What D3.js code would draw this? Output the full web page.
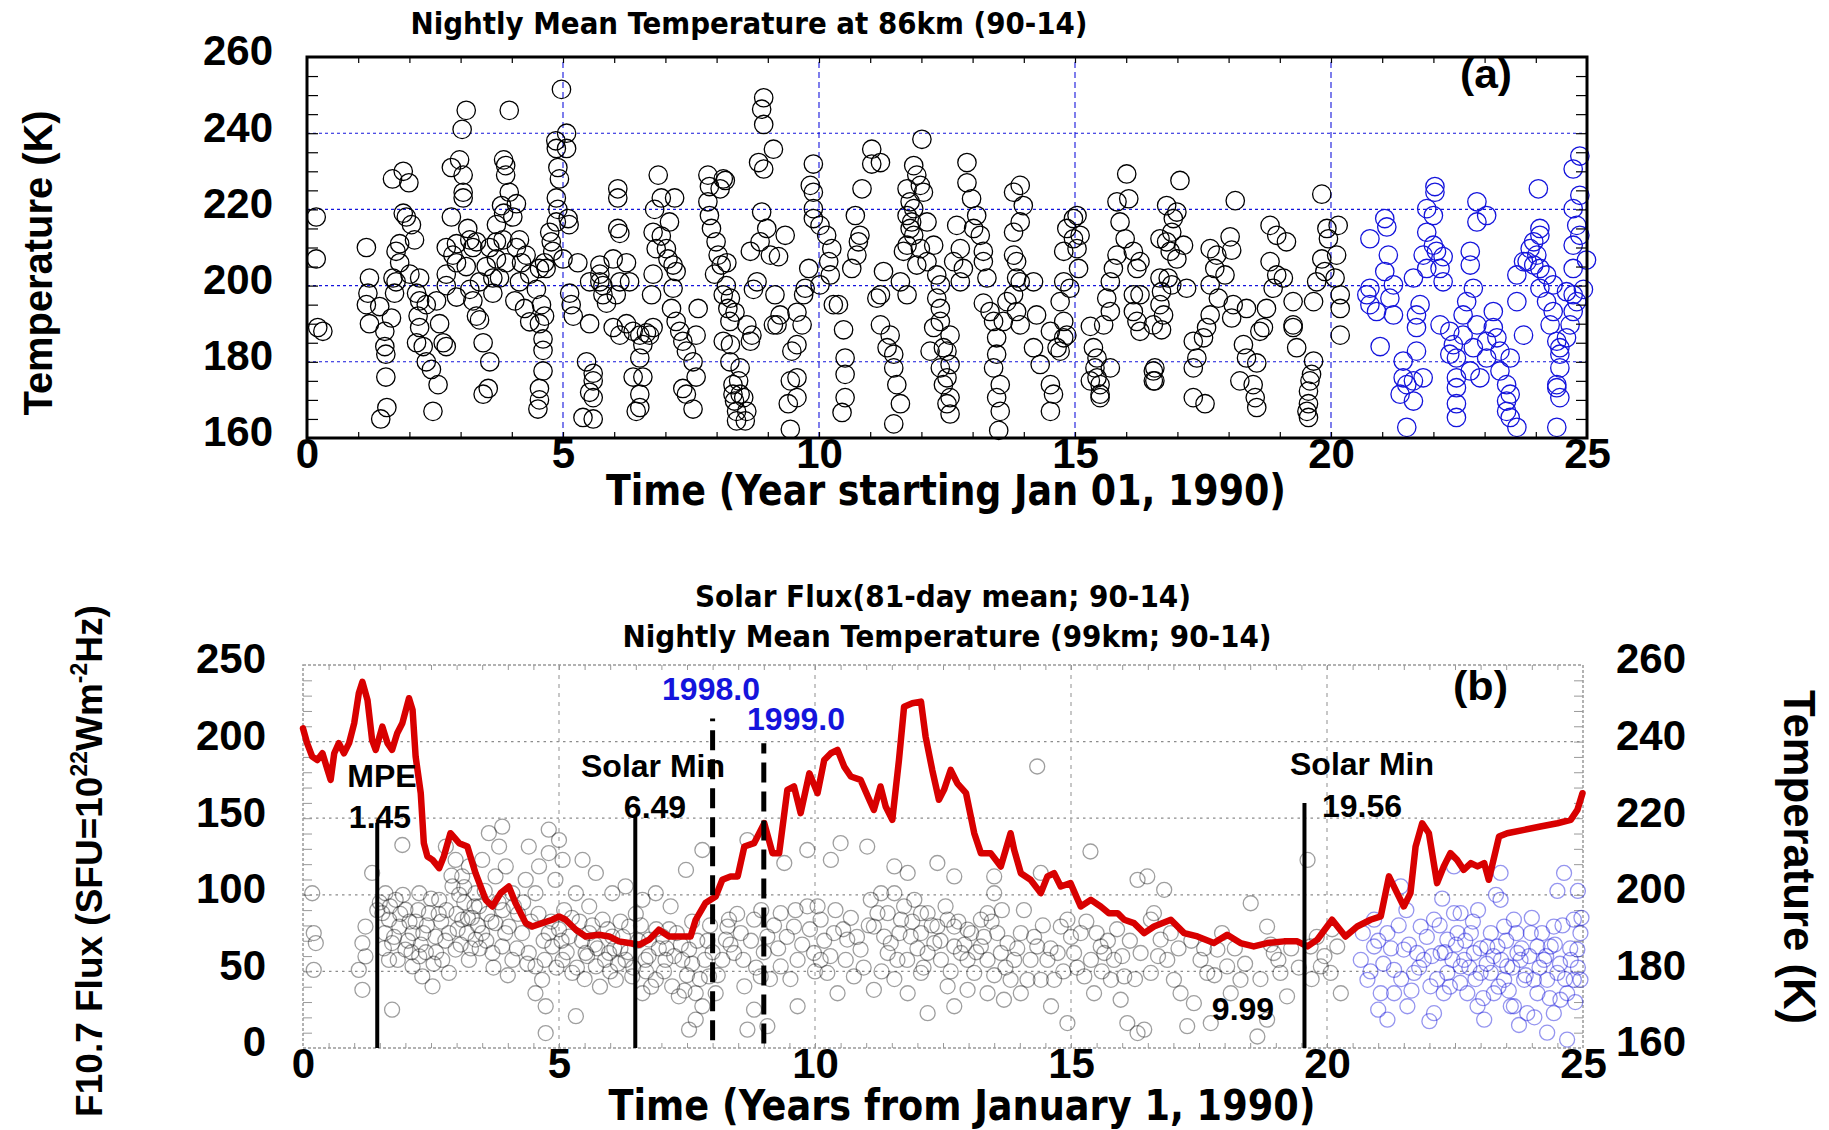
<!DOCTYPE html>
<html>
<head>
<meta charset="utf-8">
<script src="https://cdn.jsdelivr.net/npm/d3@7"></script>
<style>
  body { margin: 0; background: #fff; }
  svg { display: block; }
</style>
</head>
<body>
<script>
// ---- data ----
// panel (a): nightly mean temperature at 86 km, [year since 1990, K]
const temp86 = [
  [0.18,218],[0.18,207],[0.21,189],[0.31,188],
  [1.16,210],[1.22,202],[1.19,198],[1.16,195],[1.22,190],[1.42,194.5],[1.52,188],
  [1.67,228],[1.88,230],[1.99,227],
  [1.88,219],[1.94,218],[2.04,216],[2.1,212],[1.81,211],[1.74,209],[1.81,206],[1.68,202],[1.74,201],[1.71,198],[1.65,191.5],[1.52,184],[1.54,182],[1.54,176],[1.56,168],[1.44,165],[2.01,203],[2.2,202],[2.14,198],[2.2,196],[2.33,195],[2.17,192],[2.2,189],[2.14,185],[2.27,184],[2.33,180],[2.43,178],[2.56,174],[2.46,167],[2.59,190],[2.66,185],[2.72,184],[2.53,196],
  [3.11,246],[3.03,241],[2.82,231],[2.98,233],[3.05,229],[3.05,224.5],[3.05,223],[2.82,218],[3.14,215],[2.92,211],[3.18,212],[3.24,210],[2.72,210],[2.85,208],[2.92,206],[2.72,203],[2.72,200],[2.92,197],[3.18,199],[3.24,196],[3.31,192],[3.37,191],[3.44,185],[3.57,180],[3.54,173],[3.44,171.5],[3.63,198],[3.63,202],[3.5,205],[3.11,205],[3.31,211.5],[3.37,201],
  [3.95,246],[3.84,233],[3.88,231.5],[3.88,229],[3.95,224.5],[3.8,221],[3.84,219],[4.02,218],[4.09,221.5],[3.7,216],[3.7,211.5],[3.83,212],[4.09,210],[4.15,212],[4.28,208],[4.19,206],[4.35,203],[4.15,201],[4.06,196],[4.25,194],[4.35,190.5],[3.76,202],[3.7,207],[3.89,206],[3.57,210],
  [4.97,251.5],[5.07,240],[4.86,238],[5.07,236],[4.87,236],[4.9,231],[4.93,228],[4.87,223],[4.9,220],[5.1,217.6],[5.12,216],[4.74,214],[4.77,211.5],[4.8,209],[5.0,207],[4.64,206],[4.67,204.5],[4.54,204.5],[4.48,199],[4.58,195],[4.64,192],[4.54,190],[4.61,186],[4.61,183],[4.61,177.6],[4.54,173],[4.54,170],[4.51,167.6],[5.13,198],[5.16,195],[5.2,192],[5.52,190],[5.52,201],[5.29,206],[4.87,216.7],
  [5.46,180],[5.59,177],[5.59,175],[5.52,172],[5.59,170.6],[5.39,165.4],[5.59,165],[5.72,203],[5.78,200],[5.78,197.6],[5.85,195.4],[5.72,205.4],[5.98,207],[5.72,201],
  [6.07,225.4],[6.07,223],[6.07,215],[6.11,213.7],[6.24,206],[6.11,201],[5.98,189],[6.11,187],[6.24,190],[6.37,188],[6.5,187],[6.63,187.6],[6.69,187],[6.56,184.5],[6.5,181],[6.37,176],[6.5,171.5],[6.5,168],[6.43,167],[6.56,176],[6.76,189],[6.04,197.6],[6.3,201],
  [6.86,229],[6.92,223],[6.79,220],[7.18,223],[7.08,216.7],[6.92,213],[7.02,209.7],[7.05,207],[7.15,205.4],[7.21,203.7],[7.15,199.3],[6.76,203],[6.73,197.6],[7.12,194],[7.21,190.6],[7.28,188],[7.34,185.4],[7.41,182.8],[7.54,180],[7.6,176],[7.34,173],[7.41,171.5],[7.54,167.6],[7.64,194],[7.6,187],[6.82,209.7],[6.76,214],
  [7.83,229],[8.13,228],[7.86,226],[7.83,222],[7.86,218.4],[7.9,215],[7.99,211.5],[8.03,208],[8.09,205.4],[7.96,203],[8.19,200],[8.13,197.6],[8.22,194],[8.26,190.6],[8.13,185.4],[8.26,180],[8.32,174],[8.32,171.5],[8.35,169.7],[8.39,167],[8.39,164.5],
  [8.17,227.6],[8.07,225.4],[8.2,206],[8.27,196.7],[8.36,193],[8.59,189.7],[8.69,187],[8.66,185.4],[8.27,184.5],[8.46,178.4],[8.43,175],[8.46,171.5],[8.53,170.6],[8.59,167],[8.56,164.5],
  [8.92,249.3],[8.88,246.3],[8.92,242.3],[9.11,235.8],[8.82,232.3],[8.92,230.6],
  [8.88,219.3],[8.98,215],[8.85,211.5],[9.34,213.2],[8.66,209],[9.05,208],[9.21,207.6],[8.79,201],[8.72,199],[9.14,197.6],[9.24,192.3],[9.18,189.7],[9.11,189.7],
  [9.57,193],[9.67,189.7],[9.57,184.5],[9.47,182.8],[9.57,175.8],[9.44,175],[9.4,169],[9.57,170.6],[9.44,162.3],
  [9.89,231.9],[9.83,226.3],[9.89,224.5],[9.89,220.2],[9.89,217.6],[10.02,215.8],[10.15,213.2],[10.25,209.7],[10.19,206.3],[10.22,202.8],[9.8,204.5],[9.73,199.3],[9.7,197.6],[10.02,200.2],
  [10.28,195],[10.38,195],[10.48,188.4],[10.51,181],[10.51,176.7],[10.51,170.6],[10.45,166.7],
  [10.71,218.4],[10.8,213.2],[10.77,211.5],[10.74,208],[10.64,204.5],[10.84,225.4],
  [11.03,235.8],[11.2,232.3],[11.03,231.9],
  [11.26,203.7],[11.2,197.6],[11.13,196.7],[11.2,189.7],[11.39,187],[11.46,182],[11.46,178.4],[11.52,174],[11.59,169],[11.46,163.7],[11.33,183.7],
  [12.01,238.4],[11.85,231.5],[11.91,229],[11.98,226.3],[12.04,224.5],[11.85,220.2],[11.81,216.7],[11.85,213.2],[11.98,209.7],[11.65,209],[12.11,206.3],[12.3,202.8],[12.37,200.2],[12.3,196.7],[12.37,194],[12.24,189],[12.56,187],[12.5,182.8],[12.56,179.3],[12.5,175.8],[12.56,170.6],[12.56,166.3],[12.17,182.8],
  [11.72,225.4],[11.78,222],[11.72,218.4],[11.78,215],[11.72,210.6],[11.91,205.4],[11.59,201],[11.72,197.6],[12.11,216.7],[12.24,210.6],
  [12.89,232.3],[12.89,227],[12.98,222.8],[13.08,218.4],[13.02,215],[13.15,213.2],[13.21,209],[13.21,206.3],[13.28,202],[13.21,195.4],[13.34,193.2],[13.41,190.6],[13.47,186.3],[13.47,182],[13.41,178.4],[13.54,174],[13.47,170.6],[13.54,167],[13.51,162],[12.82,204.5],[12.69,215.8],[12.76,209.7],[12.63,206.3],[12.76,201],
  [12.37,190.6],[12.43,183.7],[12.37,178.4],[12.43,174],[12.5,169],
  [13.8,224.5],[13.93,226.3],[13.99,221],[13.93,216.7],[13.8,214],[13.8,208],[13.86,206.3],[13.86,202],[13.93,201],[13.8,197.6],[13.86,193.2],[13.93,189.7],[14.25,192.3],[14.19,183.7],[14.32,179.3],[14.52,174],[14.58,171.5],[14.52,167],[14.19,201],[14.52,188],[14.78,186.3],[14.65,183.7],[13.67,195.8],[13.6,190.6],
  [14.84,215],[14.97,217.6],[15.04,218.4],[14.97,212.3],[14.78,209],[15.07,204.5],[14.78,201],[14.9,199.3],[14.71,195.8],[14.78,190.6],[14.84,187],[14.71,182.8],[15.1,213.2],[15.04,209.7],
  [15.3,189.3],[15.36,183.7],[15.43,181],[15.39,178.4],[15.43,175.8],[15.49,174],[15.49,171.5],[15.69,178.4],[15.49,170.6],[15.3,175],
  [16.01,229.3],[15.82,222],[16.05,222.8],[15.88,216.7],[15.98,212.3],[15.82,208],[15.75,204.5],[15.69,201],[15.62,196.7],[15.69,193.2],[15.56,189.7],[16.14,209],[16.21,204.5],[16.14,197.6],[16.14,193.2],[16.27,188],[16.53,189.7],[16.66,202],[16.66,212.3],[16.53,177.6],[16.53,175],[16.21,190.6],
  [16.27,206.3],[16.27,197.6],
  [17.05,227.6],[16.79,221],[16.92,217.6],[16.99,219.3],[16.89,214],[16.79,211.5],[17.12,210.6],[16.86,209],[16.99,207],[16.82,202],[16.89,200.2],[16.69,198.4],[16.66,195],[16.73,192.3],[16.69,188.4],[16.56,178.4],[16.56,175],[17.18,199.3],
  [18.13,222.3],
  [17.64,209.7],[17.77,208],[17.73,204.5],[17.64,200.2],[17.8,196.7],[17.64,192.3],[17.57,189],[17.51,186.3],[17.31,185.4],[17.38,181],[17.31,178.4],[17.31,170.6],[17.54,169],[18.03,212.8],[18.06,209.3],[17.93,202.8],[18.09,195],[18.06,191.5],[18.35,194],
  [18.81,215.8],[18.94,213.2],[19.13,211.5],[18.81,206.3],[18.94,202.8],[19.07,202],[18.87,199.3],[19.26,195.8],[18.74,194],[18.68,189],[18.61,188],[18.29,184.5],[18.35,181],[18.55,179.7],[18.22,175],[18.48,174],[18.52,170.6],[18.55,168],[19.26,189.7],
  [19.82,224],[19.92,215],[20.14,215.8],[19.95,212.3],[20.11,208],[19.82,207],[19.88,203.7],[20.08,202],[19.72,201],[20.18,197.6],[20.18,194],[20.18,187],[19.66,195.8],[19.26,189],[19.33,183.7],[19.66,180.2],[19.62,176.7],[19.59,175],[19.56,172.3],[19.56,169],[19.53,167],[19.56,165.4]
];
// panel (a): later years (blue)
const temp86Late = [
  [20.76,212.3],[21.05,217.6],[21.09,215.4],[21.12,208],[21.05,203.7],[20.76,199.3],[20.76,195],[20.89,193.2],[21.15,196.7],[21.22,192.3],[20.96,184],[20.7,197.6],[21.22,200.2],
  [21.41,175.8],[21.48,174],[21.61,175],[21.35,171.5],[21.61,169.7],[21.48,162.8],[21.41,180.2],[21.67,182.8],[21.8,175.8],[21.67,189],[21.67,192.3],[21.74,195],[21.61,202],[21.87,204.5],[21.8,208],[22.0,210.6],[21.87,214],[22.0,218.4],[21.87,220.2],[22.03,224.5],[22.03,226],[22.06,209],[22.13,204.5],[22.19,207.6],[22.19,201],
  [22.13,189.7],[22.32,188],[22.39,184.5],[22.32,182],[22.45,181],[22.45,175.8],[22.45,173.2],[22.45,169],[22.45,165.4],[22.58,187],[22.58,192.3],[22.65,195.8],[22.78,199.3],[22.72,205.4],[22.72,209],[22.85,216.7],[22.85,222],[23.04,218.4],[22.85,189.7],[23.04,185.4],[22.78,183.7],[22.72,177.6],[23.04,181],[22.91,175.8],
  [23.17,189],[23.17,193.2],[23.24,186.3],[23.3,182.8],[23.3,177.6],[23.43,174],[23.5,171.5],[23.43,169.7],[23.43,167],[23.5,165.4],[23.63,162.8],[23.5,181],[23.76,187],[23.63,195.8],[23.63,202.8],[23.83,206.3],[23.89,209.7],[23.96,211.5],[24.08,213.2],[24.08,215],[24.02,208],[24.08,204.5],[24.21,202.8],[24.08,199.3],[24.21,195.8],[24.34,193.2],[24.28,189.7],[24.41,185.4],[24.47,182],[24.47,178.4],[24.41,173.2],[24.47,170.6],[24.41,162.8],[24.05,225.4],
  [24.73,230.6],[24.86,234],[24.86,223.7],[24.73,220.2],[24.8,215.8],[24.86,213.2],[24.73,210.6],[24.99,206.7],[24.73,204.5],[24.6,198.4],[24.93,199],[24.8,195.8],[24.73,193.2],[24.67,189.7],[24.6,186.3],[24.47,183.7],[24.73,197.6],[24.41,174],[23.76,206.3],[23.96,205.4],[24.34,200.2]
];

// panel (b): F10.7 81-day mean [year, SFU]
const flux81 = [
  [0,208.7],[0.08,199],[0.18,190.2],[0.28,188],[0.38,192.4],[0.48,181.5],[0.54,175],[0.61,192.4],[0.7,199],[0.8,192.4],[0.9,199],[1.0,212],[1.09,231.5],[1.16,239],[1.26,227],[1.35,201],[1.42,194.6],[1.55,209.8],[1.65,199],[1.74,194.6],[1.84,205.4],[1.94,212],[2.07,228.3],[2.14,220.7],[2.2,190.2],[2.3,166.3],[2.36,133.7],[2.43,125],[2.53,122.8],[2.66,117.4],[2.75,125],[2.88,140.2],[3.05,133.7],[3.21,131.5],[3.37,114.1],[3.57,96.7],[3.7,92.4],[3.86,101.1],[4.02,105.4],[4.15,94.6],[4.35,81.5],[4.48,79.3],[4.67,81.5],[4.87,83.7],[5.0,85.9],[5.13,83.7],[5.33,77.2],[5.52,72.8],[5.78,73.9],[5.98,72.8],[6.17,69.6],[6.37,68.5],[6.57,67.4],[6.76,70.7],[6.95,77.2],[7.15,72.8],[7.34,72.8],[7.57,72.8],[7.67,83.7],[7.86,94.6],[8.06,98.9],[8.19,109.8],[8.35,112],[8.49,112],[8.62,131.5],[8.81,133.7],[9.01,146.7],[9.17,127.2],[9.3,127.2],[9.46,168.5],[9.59,170.7],[9.72,153.3],[9.89,179.3],[10.05,166.3],[10.18,188],[10.31,192.4],[10.44,194.6],[10.57,183.7],[10.7,177.2],[10.89,175],[11.06,162],[11.15,155.4],[11.28,170.7],[11.38,157.6],[11.51,148.9],[11.64,188],[11.74,222.8],[11.9,225],[12.07,226.1],[12.16,203.3],[12.29,181.5],[12.42,162],[12.52,168.5],[12.65,181.5],[12.78,172.8],[12.95,166.3],[13.11,140.2],[13.24,127.2],[13.43,127.2],[13.63,118.5],[13.82,140.2],[13.89,129.3],[14.02,114.1],[14.21,109.8],[14.41,101.1],[14.54,112],[14.67,114.1],[14.8,105.4],[14.99,107.6],[15.19,92.4],[15.39,96.7],[15.58,92.4],[15.74,88],[15.91,88],[16.04,83.7],[16.23,81.5],[16.43,75],[16.62,79.3],[16.95,83.7],[17.21,75],[17.47,72.8],[17.79,68.5],[18.05,73.9],[18.31,68.5],[18.57,66.3],[18.83,68.5],[19.16,69.6],[19.42,69.6],[19.62,66.3],[19.81,70.7],[20.1,83.7],[20.36,72.8],[20.59,79.3],[20.85,83.7],[21.05,85.9],[21.21,112],[21.37,101.1],[21.5,92.4],[21.63,101.1],[21.73,131.5],[21.86,146.7],[21.99,140.2],[22.15,107.6],[22.28,118.5],[22.41,127.2],[22.54,122.8],[22.67,116.3],[22.81,120.7],[22.94,118.5],[23.07,120.7],[23.16,109.8],[23.36,138],[23.52,140.2],[23.85,142.4],[24.17,144.6],[24.5,146.7],[24.76,148.9],[24.89,155.4],[24.99,166.3]
];
// panel (b): nightly mean temperature at 99 km [year, K]
const temp99 = [
  [0.18,200.4],[0.21,190],[0.25,187.4],[0.21,180.4],[1.35,205.7],[1.22,191.7],[1.16,187.4],[1.22,183.9],[1.09,180.4],[1.16,175.2],[1.74,170],[1.94,213],
  [1.61,200.4],[1.81,198.7],[2.0,196.1],[1.68,193.5],[1.88,191.7],[2.14,190],[1.74,187.4],[2.0,185.7],[2.27,183.9],[2.14,181.3],[2.33,178.7],[2.53,176.1],[1.68,183],[2.46,195.2],[2.59,189.1],[1.55,195.2],[2.27,200.4],[2.66,198.7],
  [2.79,212.6],[2.98,209.1],[3.11,204.8],[3.24,207.4],[3.37,200.4],[2.92,202.2],[3.44,197],[3.63,216.1],[3.83,212.6],[3.5,209.1],[3.89,217.8],[3.76,204.8],[3.96,207.4],[4.09,200.4],[3.11,193.5],[3.5,190],[3.76,192.6],[4.02,191.7],[4.28,190],[4.41,212.6],[4.8,217],[5.0,214.3],[4.8,210.9],[4.61,207.4],[4.35,203.9],[4.54,200.4],[4.93,203.9],[5.07,209.1],[5.46,209.1],[5.72,205.7],[5.33,200.4],[5.59,197],[5.85,193.5],[6.04,200.4],[6.3,202.2],[6.63,198.7],[6.89,200.4],[7.18,197],[7.48,206.5],[7.8,211.7],
  [4.41,184.8],[4.54,181.3],[4.67,177.8],[4.54,174.3],[4.74,170.9],[4.74,163.9],[5.33,168.3],[4.87,186.5],[5.07,183],[5.26,179.6],[5.52,184.8],[5.72,181.3],[5.98,184.8],[6.11,177.8],[6.3,183],[6.43,178.7],[6.63,174.3],[6.69,183],[6.89,177.8],[7.08,183],[7.21,176.1],[7.34,173.5],[7.41,183],[7.54,185.7],[7.67,167.4],[7.67,174.3],[7.8,170.9],[7.54,164.8],[7.93,178.7],[8.06,174.3],[8.19,183],[8.26,188.3],[8.32,193.5],[6.37,191.7],[6.76,188.3],[7.02,189.1],[6.04,189.1],[5.59,190],[5.2,189.1],[4.8,190],[3.89,186.5],[4.09,183],[3.7,184.8],[3.37,188.3],[3.24,183],[2.98,185.7],[2.72,183],[2.85,179.6],
  [1.5,198],[1.6,190],[1.9,195],[2.05,188],[2.2,193],[2.35,190],[2.4,185],[2.55,182],[2.7,193],[2.85,190],[3.0,195],[3.15,198],[3.3,194],[3.45,186],[2.9,205],[3.05,200],[3.2,190],[3.6,195],[3.9,196],[4.2,195],[4.45,193],[4.7,188],[5.0,191],[5.1,196],[5.4,193],[5.7,187],[6.2,193],[6.5,195],[6.9,191],[7.3,190],[7.6,193],[7.9,188],[6.0,180],[6.2,186],[5.8,176],[5.5,178],[6.7,180],[7.1,186],[7.5,179],[7.85,183],
  [1.45,196],[1.58,186],[1.7,197],[1.78,189],[1.85,183],[1.95,200],[2.08,193],[2.12,185],[2.25,196],[2.3,187],[2.42,192],[2.5,199],[2.6,185],[2.65,195],[2.78,188],[2.8,196],
  [3.02,191],[3.08,187],[3.15,202],[3.22,194],[3.28,186],[3.35,197],[3.42,192],[3.55,201],[3.58,188],[3.68,193],[3.72,181],[3.82,198],[3.95,190],[4.0,179],[4.12,197],[4.18,186],[4.3,198],[4.38,182],
  [4.6,195],[4.72,183],[4.85,193],[4.95,181],[5.05,188],[5.15,185],[5.25,194],[5.35,181],[5.45,188],[5.55,184],[5.65,192],[5.75,186],[5.9,183],[5.95,191],[6.08,186],[6.15,182],[6.25,189],[6.35,185],[6.45,181],[6.55,188],[6.6,192],[6.75,184],[6.8,176],[6.95,186],[7.05,180],[7.15,191],[7.25,184],[7.38,187],[7.45,175],[7.6,182],[7.7,188],[7.75,178],[7.95,192],[8.0,185],[8.1,179],
  [8.68,214.3],[9.4,208.3],[9.85,211.7],[10.5,213.5],[11.02,212.6],[10.31,209.1],[11.55,207.4],[12.39,208.3],[12.72,204.8],[14.34,233.5],[15.38,211.3],[16.3,203.9],[14.41,205.7],[13.5,204.8],[11.81,205.7],[11.29,200.4],
  [8.29,191.7],[8.55,190],[8.81,193.5],[9.07,189.1],[9.33,195.2],[9.59,191.7],[9.85,197],[10.11,193.5],[10.37,190],[9.98,184.8],[9.66,183],[9.33,181.3],[8.94,178.7],[8.62,176.1],[8.42,184.8],[8.81,170],[8.68,164.8],[9.07,165.7],[9.66,170.9],[10.11,183],[10.24,179.6],[10.63,188.3],[10.89,185.7],[11.15,175.2],[11.15,191.7],[11.42,195.2],[11.55,200.4],[11.68,193.5],[11.87,189.1],[12.07,195.2],[12.2,184.8],[12.39,191.7],[12.07,179.6],[11.81,174.3],[12.2,169.1],[12.59,176.1],[12.72,186.5],[12.98,190.9],[13.24,186.5],[13.37,195.2],[13.5,200.4],[13.63,184.8],[13.82,177.8],[14.02,190],[14.21,183],[14.41,177.8],[14.61,170.9],[14.93,166.5],[14.74,184.8],[14.93,193.5],[15.19,190],[15.39,183],[15.58,186.5],[15.78,177.8],[15.97,172.6],[16.1,166.5],[16.3,163.9],[16.36,184.8],[16.56,179.6],[16.62,195.2],[14.02,174.3],[13.37,174.3],[13.69,172.6],[12.72,170.9],[12.98,175.2],[11.42,184.8],[10.76,178.7],[10.44,174.3],
  [11.09,198.7],[11.22,195.2],[11.35,189.1],[11.48,187.4],[11.61,183],[11.74,197],[11.94,198.7],[12.07,190],[12.2,195.2],[12.33,187.4],[12.46,183],[12.59,193.5],[12.72,191.7],[12.85,184.8],[12.98,183],[13.11,179.6],[13.24,193.5],[13.37,183],[13.56,190],[13.76,187.4],[13.89,183],[14.15,177.8],[14.34,186.5],[14.54,183],[14.67,177.8],[14.8,191.7],[15.06,184.8],[15.26,178.7],[15.45,174.3],[15.65,184.8],[15.84,183],[16.04,178.7],
  [8.35,187],[8.48,195],[8.6,183],[8.75,188],[8.85,181],[8.95,196],[9.0,185],[9.12,178],[9.2,192],[9.28,186],[9.45,189],[9.52,178],[9.62,196],[9.75,187],[9.9,191],[10.0,180],[10.05,197],[10.18,188],[10.3,184],[10.4,196],[10.55,191],[10.6,183],[10.7,194],[10.82,189],[10.95,181],[11.05,192],[11.3,180],[11.55,178],[11.65,190],[11.8,183],[11.9,193],[12.0,186],[12.12,181],[12.28,192],[12.45,188],[12.55,197],[12.65,180],[12.8,193],[12.92,187],[13.05,190],[13.15,185],[13.3,189],[13.45,193],[13.5,179],[13.65,196],[13.72,181],[13.95,186],[14.08,196],[14.28,189],[14.45,192],[14.6,186],[14.85,180],[15.0,189],[15.12,181],[15.3,193],[15.5,190],[15.6,180],[15.72,188],[15.9,191],[16.0,184],[16.15,188],[16.25,178],
  [16.49,204.8],[16.82,201.3],[16.56,193.5],[16.75,188.3],[16.88,183],[17.01,177.8],[17.14,174.3],[17.27,165.7],[17.53,183],[17.66,179.6],[17.86,185.7],[18.05,181.3],[18.12,174.3],[18.31,177.8],[18.51,197.8],[18.64,163],[18.83,191.7],[18.96,184.8],[19.09,179.6],[19.22,173.5],[19.62,209.1],[19.68,186.5],[19.88,181.3],[20.07,179.6],[20.2,186.5],[20.27,174.3],[17.4,171.7],[17.73,166.5],[18.83,167.4],[16.43,164.8],
  [16.7,184],[16.95,190],[17.1,186],[17.35,188],[17.6,186],[17.8,179],[17.95,190],[18.2,186],[18.4,182],[18.7,178],[18.9,187],[19.05,183],[19.3,186],[19.45,181],[19.7,178],[19.8,189],[19.95,184],[20.1,191]
];
const temp99Late = [
  [20.66,183],[20.79,177.8],[20.92,186.5],[21.05,174.3],[21.18,167.4],[21.31,180.4],[21.44,202.2],[21.5,185.7],[21.57,170.9],[21.7,179.6],[21.83,191.7],[21.89,183],[22.02,176.1],[22.09,169.1],[22.22,184.8],[22.35,179.6],[22.48,195.2],[22.55,190],[22.61,181.3],[22.74,174.3],[22.87,184.8],[23.0,179.6],[23.13,186.5],[23.26,174.3],[23.39,198.7],[23.46,191.7],[23.52,181.3],[23.59,170.9],[23.72,184.8],[23.85,177.8],[23.98,190],[24.11,174.3],[24.24,183],[24.37,186.5],[24.5,179.6],[24.63,205.7],[24.69,174.3],[24.76,183],[24.82,193.5],[24.89,185.7],[24.95,177.8],[24.69,162.2],
  [20.92,193.5],[21.18,190],[21.31,174.3],[22.09,193.5],[22.35,188.3],[22.61,195.2],[22.81,190],[22.94,170.9],[23.2,179.6],[23.33,186.5],[23.46,177.8],[23.65,193.5],[23.78,183],[23.91,169.1],[24.11,186.5],[24.3,177.8],[24.43,191.7],[24.56,172.6],[24.82,177.8],[24.95,190],[21.76,184.8],[22.28,174.3],[22.68,183],[23.07,167.4],[23.65,170.9],[24.04,177.8],[24.43,169.1],[22.48,207.4],[23.39,205.7],
  [20.7,190],[20.85,180],[21.0,188],[21.1,182],[21.25,186],[21.4,192],[21.45,178],[21.6,187],[21.65,175],[21.8,181],[21.95,189],[22.05,184],[22.15,178],[22.2,192],[22.3,185],[22.4,176],[22.45,183],[22.52,187],[22.6,177],[22.7,188],[22.78,181],[22.85,193],[22.9,178],[23.0,186],[23.05,173],[23.12,182],[23.2,190],[23.25,184],[23.35,176],[23.4,183],[23.5,188],[23.55,175],[23.62,181],[23.7,190],[23.8,186],[23.88,179],[23.95,184],[24.0,194],[24.05,168],[24.15,181],[24.2,190],[24.28,184],[24.35,173],[24.45,187],[24.55,182],[24.6,192],[24.65,178],[24.75,186],[24.85,172],[24.9,181],[24.97,194],[21.55,196],[22.25,199],[22.95,196],[23.3,200],[24.5,201],[24.9,201],[21.0,170],[22.0,167],[23.75,166],[24.3,164]
];

// reference epochs in panel (b)
const solarMinYears = [1.45, 6.49, 19.56];
const solarMinTops = [147, 151, 160];   // SFU
const epochYears = [8.0, 9.0];           // 1998.0, 1999.0
const epochSpans = [[5, 215], [3, 199]]; // SFU
const epochLabels = ['1998.0', '1999.0'];

// tick values
const yearTicks = [0, 5, 10, 15, 20, 25];
const tempTicks = [160, 180, 200, 220, 240, 260];
const fluxTicks = [0, 50, 100, 150, 200, 250];

// ---- layout ----
const W = 1829, H = 1130;
const FONT = '"Liberation Sans", Arial, Helvetica, sans-serif';
const NARROW = '"Liberation Sans Narrow", "Arial Narrow", "DejaVu Sans Condensed", sans-serif';
const BLUE = '#1414dc';

const svg = d3.select('body').append('svg')
  .attr('width', W).attr('height', H)
  .attr('font-family', FONT).attr('font-weight', 'bold');

function label(g, txt, x, y, size, opts = {}) {
  const t = g.append('text')
    .attr('x', x).attr('y', y)
    .attr('font-size', size)
    .attr('text-anchor', opts.anchor || 'middle')
    .attr('fill', opts.fill || '#000')
    .text(txt);
  if (opts.family) t.attr('font-family', opts.family);
  if (opts.len) t.attr('textLength', opts.len).attr('lengthAdjust', 'spacingAndGlyphs');
  if (opts.transform) t.attr('transform', opts.transform).attr('x', 0).attr('y', 0);
  return t;
}

function cleanAxis(g, size) {
  g.attr('font-family', FONT).attr('font-size', size).attr('font-weight', 'bold');
  g.select('.domain').remove();
  g.selectAll('text').attr('fill', '#000');
}

/* ================= PANEL (a) ================= */
const xA = d3.scaleLinear().domain([0, 25]).range([307, 1587]);
const yA = d3.scaleLinear().domain([160, 260]).range([438, 57]);
const gA = svg.append('g');

gA.append('g').selectAll('line')
  .data([180, 200, 220, 240]).enter().append('line')
  .attr('x1', xA(0)).attr('x2', xA(25))
  .attr('y1', d => yA(d)).attr('y2', d => yA(d))
  .attr('stroke', BLUE).attr('stroke-width', 1.1).attr('stroke-dasharray', '3,3');

gA.append('g').selectAll('line')
  .data([5, 10, 15, 20]).enter().append('line')
  .attr('x1', d => xA(d)).attr('x2', d => xA(d))
  .attr('y1', yA(160)).attr('y2', yA(260))
  .attr('stroke', BLUE).attr('stroke-width', 1.1).attr('stroke-dasharray', '6,4');

gA.append('g').selectAll('circle')
  .data(temp86).enter().append('circle')
  .attr('cx', d => xA(d[0])).attr('cy', d => yA(d[1])).attr('r', 9.2)
  .attr('fill', 'none').attr('stroke', '#000').attr('stroke-width', 1.3);

gA.append('g').selectAll('circle')
  .data(temp86Late).enter().append('circle')
  .attr('cx', d => xA(d[0])).attr('cy', d => yA(d[1])).attr('r', 9.2)
  .attr('fill', 'none').attr('stroke', BLUE).attr('stroke-width', 1.3);

// inward minor ticks
const minorT = d3.range(165, 260, 5);
const minorY = d3.range(1, 25, 1);
gA.append('g').attr('transform', `translate(${xA(0)},0)`)
  .call(d3.axisLeft(yA).tickValues(minorT).tickSize(-11).tickFormat(''))
  .call(g => g.select('.domain').remove());
gA.append('g').attr('transform', `translate(${xA(25)},0)`)
  .call(d3.axisRight(yA).tickValues(minorT).tickSize(-11).tickFormat(''))
  .call(g => g.select('.domain').remove());
gA.append('g').attr('transform', `translate(0,${yA(260)})`)
  .call(d3.axisTop(xA).tickValues(minorY).tickSize(-6).tickFormat(''))
  .call(g => g.select('.domain').remove());
gA.append('g').attr('transform', `translate(0,${yA(160)})`)
  .call(d3.axisBottom(xA).tickValues(minorY).tickSize(-6).tickFormat(''))
  .call(g => g.select('.domain').remove());
gA.selectAll('.tick line').attr('stroke', '#000').attr('stroke-width', 1.2);

gA.append('rect')
  .attr('x', xA(0)).attr('y', yA(260))
  .attr('width', xA(25) - xA(0)).attr('height', yA(160) - yA(260))
  .attr('fill', 'none').attr('stroke', '#000').attr('stroke-width', 3);

// tick labels
gA.append('g').attr('transform', `translate(${xA(0)},0)`)
  .call(d3.axisLeft(yA).tickValues(tempTicks).tickSize(0).tickPadding(34))
  .call(g => cleanAxis(g, 42))
  .call(g => g.selectAll('text').attr('dy', '0.19em'));
gA.append('g').attr('transform', `translate(0,${yA(160)})`)
  .call(d3.axisBottom(xA).tickValues(yearTicks).tickSize(0).tickPadding(0))
  .call(g => cleanAxis(g, 42));

label(gA, 'Nightly Mean Temperature at 86km (90-14)', 749, 34, 30, { len: 677, family: NARROW });
label(gA, '(a)', 1460, 88, 40, { anchor: 'start', len: 52 });
label(gA, 'Time (Year starting Jan 01, 1990)', 946, 505, 43, { len: 680, family: NARROW });
label(gA, 'Temperature (K)', 0, 0, 40, { len: 305, transform: 'translate(52,263) rotate(-90)' });

/* ================= PANEL (b) ================= */
const xB = d3.scaleLinear().domain([0, 25]).range([303, 1583]);
const yB = d3.scaleLinear().domain([0, 250]).range([1048, 665]);
const yBT = d3.scaleLinear().domain([160, 260]).range([1048, 665]);
const gB = svg.append('g');

gB.append('g').selectAll('line')
  .data([50, 100, 150, 200]).enter().append('line')
  .attr('x1', xB(0)).attr('x2', xB(25))
  .attr('y1', d => yB(d)).attr('y2', d => yB(d))
  .attr('stroke', '#8c8c8c').attr('stroke-width', 1.2).attr('stroke-dasharray', '2.5,4');
gB.append('g').selectAll('line')
  .data([5, 10, 15, 20]).enter().append('line')
  .attr('x1', d => xB(d)).attr('x2', d => xB(d))
  .attr('y1', yB(0)).attr('y2', yB(250))
  .attr('stroke', '#9a9a9a').attr('stroke-width', 1.1).attr('stroke-dasharray', '4,5');

// minor ticks
const minorF = d3.range(10, 250, 10);
const minorYB = d3.range(0.5, 25, 0.5);
gB.append('g').attr('transform', `translate(${xB(0)},0)`)
  .call(d3.axisLeft(yB).tickValues(minorF).tickSize(-9).tickFormat(''));
gB.append('g').attr('transform', `translate(${xB(25)},0)`)
  .call(d3.axisRight(yB).tickValues(minorF).tickSize(-9).tickFormat(''));
gB.append('g').attr('transform', `translate(0,${yB(250)})`)
  .call(d3.axisTop(xB).tickValues(minorYB).tickSize(-5).tickFormat(''));
gB.append('g').attr('transform', `translate(0,${yB(0)})`)
  .call(d3.axisBottom(xB).tickValues(minorYB).tickSize(-5).tickFormat(''));
gB.selectAll('.domain').remove();
gB.selectAll('.tick line').attr('stroke', '#999').attr('stroke-width', 1);

gB.append('rect')
  .attr('x', xB(0)).attr('y', yB(250))
  .attr('width', xB(25) - xB(0)).attr('height', yB(0) - yB(250))
  .attr('fill', 'none').attr('stroke', '#999').attr('stroke-width', 1.5)
  .attr('stroke-dasharray', '3,2');

gB.append('g').selectAll('circle')
  .data(temp99).enter().append('circle')
  .attr('cx', d => xB(d[0])).attr('cy', d => yBT(d[1])).attr('r', 7.5)
  .attr('fill', 'none').attr('stroke', '#000').attr('stroke-opacity', 0.38).attr('stroke-width', 1.3);
gB.append('g').selectAll('circle')
  .data(temp99Late).enter().append('circle')
  .attr('cx', d => xB(d[0])).attr('cy', d => yBT(d[1])).attr('r', 7.5)
  .attr('fill', 'none').attr('stroke', BLUE).attr('stroke-opacity', 0.45).attr('stroke-width', 1.3);

gB.append('path')
  .datum(flux81)
  .attr('d', d3.line().x(d => xB(d[0])).y(d => yB(d[1])))
  .attr('fill', 'none').attr('stroke', '#d80000').attr('stroke-width', 6.5)
  .attr('stroke-linejoin', 'round').attr('stroke-linecap', 'round');

// solar minimum / MPE markers
gB.append('g').selectAll('line')
  .data(solarMinYears).enter().append('line')
  .attr('x1', d => xB(d)).attr('x2', d => xB(d))
  .attr('y1', yB(0)).attr('y2', (d, i) => yB(solarMinTops[i]))
  .attr('stroke', '#000').attr('stroke-width', 4);
gB.append('g').selectAll('line')
  .data(epochYears).enter().append('line')
  .attr('x1', d => xB(d)).attr('x2', d => xB(d))
  .attr('y1', (d, i) => yB(epochSpans[i][0])).attr('y2', (d, i) => yB(epochSpans[i][1]))
  .attr('stroke', '#000').attr('stroke-width', 5).attr('stroke-dasharray', '20,9');

// axis labels
gB.append('g').attr('transform', `translate(${xB(0)},0)`)
  .call(d3.axisLeft(yB).tickValues(fluxTicks).tickSize(0).tickPadding(37))
  .call(g => cleanAxis(g, 42))
  .call(g => g.selectAll('text').attr('dy', '0.19em'));
gB.append('g').attr('transform', `translate(${xB(25)},0)`)
  .call(d3.axisRight(yBT).tickValues(tempTicks).tickSize(0).tickPadding(33))
  .call(g => cleanAxis(g, 42))
  .call(g => g.selectAll('text').attr('dy', '0.19em'));
gB.append('g').attr('transform', `translate(0,${yB(0)})`)
  .call(d3.axisBottom(xB).tickValues(yearTicks).tickSize(0).tickPadding(0))
  .call(g => cleanAxis(g, 42));

label(gB, 'Solar Flux(81-day mean; 90-14)', 943, 607, 31, { len: 496, family: NARROW });
label(gB, 'Nightly Mean Temperature (99km; 90-14)', 947, 647, 31, { len: 649, family: NARROW });
label(gB, 'Time (Years from January 1, 1990)', 962, 1120, 42, { len: 707, family: NARROW });
label(gB, 'Temperature (K)', 0, 0, 44, { len: 334, transform: 'translate(1784,857) rotate(90)' });

const fl = gB.append('text')
  .attr('transform', 'translate(102,861) rotate(-90)')
  .attr('text-anchor', 'middle').attr('font-size', 37).attr('fill', '#000');
fl.append('tspan').text('F10.7 Flux (SFU=10');
fl.append('tspan').attr('font-size', 23).attr('dy', -15).text('22');
fl.append('tspan').attr('dy', 15).text('Wm');
fl.append('tspan').attr('font-size', 23).attr('dy', -15).text('-2');
fl.append('tspan').attr('dy', 15).text('Hz)');

label(gB, '(b)', 1453, 700, 40, { anchor: 'start', len: 55 });
label(gB, 'MPE', 382, 787, 32);
label(gB, '1.45', 380, 828, 32);
label(gB, 'Solar Min', 653, 777, 32);
label(gB, '6.49', 655, 818, 32);
label(gB, 'Solar Min', 1362, 775, 32);
label(gB, '19.56', 1362, 817, 32);
label(gB, '9.99', 1243, 1020, 32);
label(gB, epochLabels[0], 711, 700, 32, { fill: BLUE });
label(gB, epochLabels[1], 796, 730, 32, { fill: BLUE });
</script>
</body>
</html>
